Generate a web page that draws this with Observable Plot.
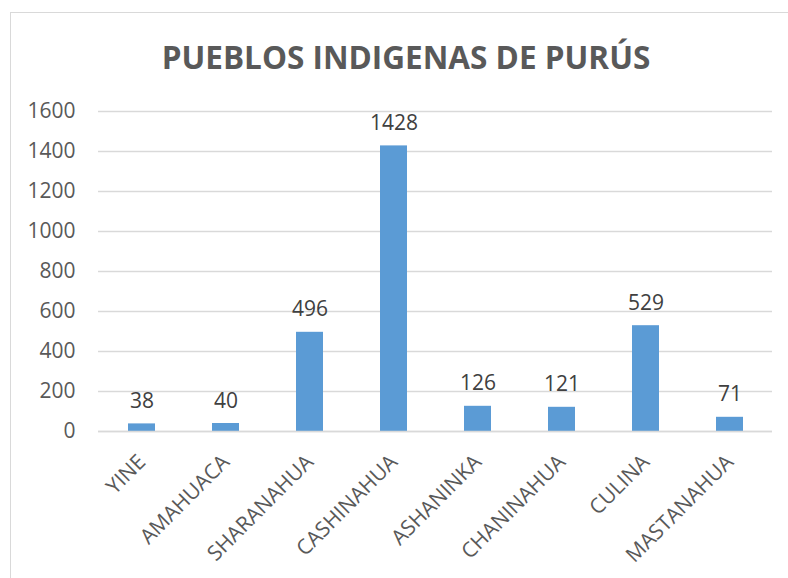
<!DOCTYPE html>
<html>
<head>
<meta charset="utf-8">
<script src="https://cdn.jsdelivr.net/npm/d3@7"></script>
<script src="https://cdn.jsdelivr.net/npm/@observablehq/plot@0.6"></script>
<style>
  html, body { margin: 0; padding: 0; background: #fff; }
  #wrap { position: relative; width: 788px; height: 578px; overflow: hidden; font-family: "Open Sans", sans-serif; }
  #frame { position: absolute; left: 10px; top: 12px; width: 900px; height: 700px; border-left: 1.5px solid #d9d9d9; border-top: 1.5px solid #d9d9d9; }
  #title { position: absolute; left: 0; top: 0; width: 788px; height: 90px; }
  #title div { position: absolute; left: 0; width: 812px; top: 35px; text-align: center; font-size: 31.5px; font-weight: 700; color: #595959; line-height: 44px; }
  #chart { position: absolute; left: 0; top: 90px; }
</style>
</head>
<body>
<div id="wrap">
  <div id="frame"></div>
  <div id="title"><div>PUEBLOS INDIGENAS DE PURÚS</div></div>
  <div id="chart"></div>
</div>
<script>
const categories = ["YINE", "AMAHUACA", "SHARANAHUA", "CASHINAHUA", "ASHANINKA", "CHANINAHUA", "CULINA", "MASTANAHUA"];
const values = [38, 40, 496, 1428, 126, 121, 529, 71];
const yTicks = [0, 200, 400, 600, 800, 1000, 1200, 1400, 1600];

const data = categories.map((c, i) => ({ name: c, value: values[i] }));

const chart = Plot.plot({
  width: 788,
  height: 488,
  marginTop: 21,
  marginBottom: 147,
  marginLeft: 98,
  marginRight: 16,
  style: { fontFamily: "Open Sans, sans-serif", background: "transparent", overflow: "visible" },
  x: { domain: categories, paddingInner: 0.68, paddingOuter: 0.34, label: null },
  y: { domain: [0, 1600], label: null },
  marks: [
    Plot.gridY(yTicks, { stroke: "#d9d9d9", strokeOpacity: 1, strokeWidth: 1.5 }),
    Plot.axisY(yTicks, { tickSize: 0, tickPadding: 23, fontSize: 21, fill: "#595959", label: null, tickFormat: d => String(d) }),
    Plot.barY(data, { x: "name", y: "value", fill: "#5b9bd5" }),
    Plot.ruleY([0], { stroke: "#d9d9d9", strokeWidth: 1.5 }),
    Plot.text(data, { x: "name", y: "value", text: d => String(d.value), lineAnchor: "bottom", dy: -16, fontSize: 21, fill: "#404040" }),
    Plot.axisX({ tickSize: 0, tickRotate: -45, tickPadding: 27, fontSize: 21, fill: "#595959", label: null })
  ]
});
document.getElementById("chart").appendChild(chart);
</script>
</body>
</html>
